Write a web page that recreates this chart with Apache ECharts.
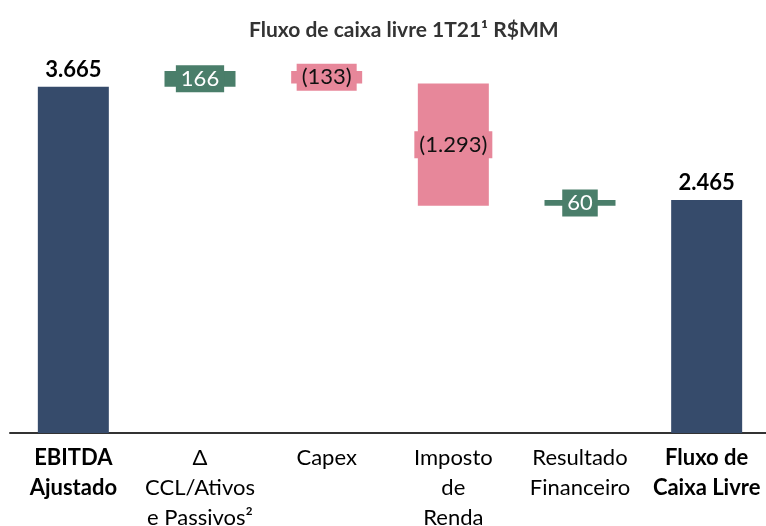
<!DOCTYPE html>
<html>
<head>
<meta charset="utf-8">
<script src="https://cdn.jsdelivr.net/npm/echarts@6/dist/echarts.min.js"></script>
<style>
  html, body { margin: 0; padding: 0; background: #fff; }
  #chart { width: 766px; height: 526px; }
</style>
</head>
<body>
<div id="chart"></div>
<script>
// dados do gráfico
const categories = [
  'EBITDA\nAjustado',
  'Δ\nCCL/Ativos\ne Passivos²',
  'Capex',
  'Imposto\nde\nRenda',
  'Resultado\nFinanceiro',
  'Fluxo de\nCaixa Livre'
];
const values = [3665, 166, -133, -1293, 60, 2465];
const isTotal = [true, false, false, false, false, true];

const NAVY = '#364B6B';
const GREEN = '#4A7E6A';
const PINK = '#E7879A';
const FONT = 'Lato';

// formata no padrão brasileiro: 1.293, (133)
const fmt = (v) => {
  const s = String(Math.abs(v)).replace(/\B(?=(\d{3})+(?!\d))/g, '.');
  return v < 0 ? '(' + s + ')' : s;
};

// base invisível + barra visível
const base = [];
const shown = [];
let acc = 0;
values.forEach((v, i) => {
  if (isTotal[i]) {
    base.push(0);
    shown.push(v);
    acc = v;
  } else if (v >= 0) {
    base.push(acc);
    shown.push(v);
    acc += v;
  } else {
    acc += v;
    base.push(acc);
    shown.push(-v);
  }
});

const chart = echarts.init(document.getElementById('chart'));
chart.setOption({
  animation: false,
  title: {
    text: 'Fluxo de caixa livre 1T21¹ R$MM',
    left: 244,
    top: 15,
    textStyle: { fontFamily: FONT, fontSize: 21, fontWeight: 'bold', color: '#333' }
  },
  grid: { left: 10, right: -4, top: 55, bottom: 93, outerBoundsMode: 'none', containLabel: false },
  xAxis: {
    type: 'category',
    data: categories,
    axisLine: { lineStyle: { color: '#333', width: 2 } },
    axisTick: { show: false },
    axisLabel: {
      interval: 0,
      margin: 10,
      fontFamily: FONT,
      fontSize: 22,
      lineHeight: 30,
      color: '#000',
      formatter: (val, idx) => (isTotal[idx] ? '{b|' + val.split('\n').join('}\n{b|') + '}' : val),
      rich: { b: { fontFamily: FONT, fontSize: 22, fontWeight: 'bold', lineHeight: 30, color: '#000' } }
    }
  },
  yAxis: {
    type: 'value',
    min: 0,
    max: 4000,
    show: false,
    splitLine: { show: false }
  },
  series: [
    {
      type: 'bar',
      stack: 'w',
      silent: true,
      itemStyle: { color: 'transparent' },
      data: base
    },
    {
      type: 'bar',
      stack: 'w',
      barWidth: 71,
      data: shown.map((v, i) => {
        const tot = isTotal[i];
        const pos = values[i] >= 0;
        const color = tot ? NAVY : (pos ? GREEN : PINK);
        return {
          value: v,
          itemStyle: { color },
          label: tot
            ? {
                show: true,
                position: 'top',
                distance: 6,
                formatter: fmt(values[i]),
                fontFamily: FONT,
                fontSize: 22,
                fontWeight: 'bold',
                color: '#000'
              }
            : {
                show: true,
                position: 'inside',
                formatter: fmt(values[i]),
                fontFamily: FONT,
                fontSize: 22,
                lineHeight: 25,
                color: pos ? '#fff' : '#111',
                backgroundColor: color,
                padding: [1, 5]
              }
        };
      })
    }
  ]
});
</script>
</body>
</html>
